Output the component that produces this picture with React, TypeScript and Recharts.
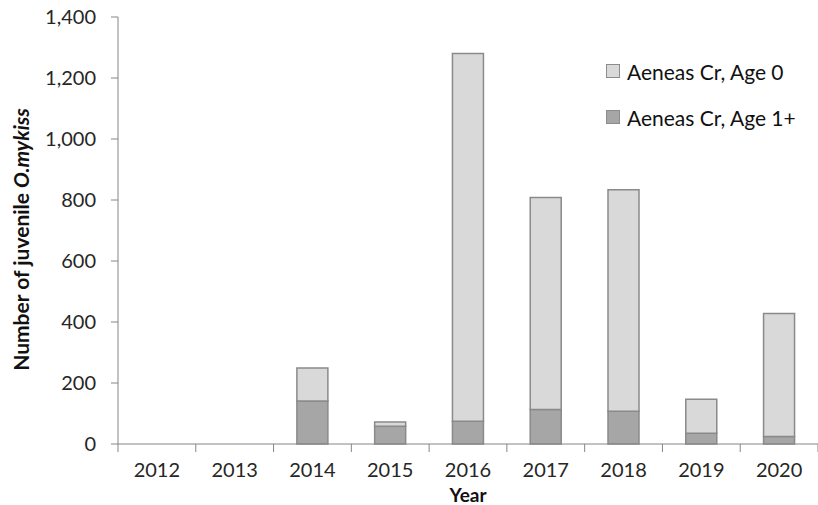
import { BarChart, Bar, XAxis, YAxis, Label } from 'recharts'

const years = ['2012', '2013', '2014', '2015', '2016', '2017', '2018', '2019', '2020']
const age1Plus = [0, 0, 141, 58, 75, 113, 107, 35, 25]
const age0 = [0, 0, 108, 14, 1205, 695, 727, 112, 403]
const yTicks = [0, 200, 400, 600, 800, 1000, 1200, 1400]

const data = years.map((year, i) => ({ year, age1: age1Plus[i], age0: age0[i] }))

const FONT = 'Lato, "Open Sans", sans-serif'
const AXIS = '#868686'
const TEXT = '#262626'

function XTick(props: any) {
  const { x, y, payload, index } = props
  const half = payload.offset ?? 39
  return (
    <g>
      <line x1={x - half} x2={x - half} y1={y - 8} y2={y} stroke={AXIS} />
      {index === years.length - 1 && (
        <line x1={x + half} x2={x + half} y1={y - 8} y2={y} stroke={AXIS} />
      )}
      <text x={x} y={y + 25} textAnchor="middle" fontSize={20} fill={TEXT} fontFamily={FONT}>
        {payload.value}
      </text>
    </g>
  )
}

function YLabel(props: any) {
  const { viewBox } = props
  const cx = 20
  const cy = viewBox.y + viewBox.height / 2 + 9
  return (
    <text
      x={cx}
      y={cy}
      transform={`rotate(-90, ${cx}, ${cy})`}
      textAnchor="middle"
      dominantBaseline="central"
      fontSize={21}
      fontWeight="bold"
      fill="#111"
      fontFamily={FONT}
    >
      Number of juvenile <tspan fontStyle="italic">O.mykiss</tspan>
    </text>
  )
}

const legendItems = [
  { label: 'Aeneas Cr, Age 0', color: '#d9d9d9' },
  { label: 'Aeneas Cr, Age 1+', color: '#a6a6a6' },
]

function LegendBox() {
  return (
    <div style={{ position: 'absolute', left: 606, top: 48, fontFamily: FONT, fontSize: 21, color: '#111' }}>
      {legendItems.map((it) => (
        <div key={it.label} style={{ display: 'flex', alignItems: 'center', height: 46 }}>
          <span
            style={{
              display: 'inline-block',
              width: 12,
              height: 12,
              background: it.color,
              border: '1px solid #8c8c8c',
              marginRight: 7,
            }}
          />
          {it.label}
        </div>
      ))}
    </div>
  )
}

export default function App() {
  return (
    <div style={{ position: 'fixed', left: 0, top: 0, width: 818, height: 505, background: '#fff' }}>
      <BarChart
        width={818}
        height={505}
        data={data}
        margin={{ top: 17, right: 0, left: 0, bottom: 0 }}
        barCategoryGap="30%"
      >
        <XAxis
          dataKey="year"
          stroke={AXIS}
          tickLine={false}
          tick={<XTick />}
          height={61}
          interval={0}
        >
          <Label
            value="Year"
            position="insideBottom"
            offset={3}
            fontSize={19}
            fontWeight="bold"
            fill="#111"
            fontFamily={FONT}
          />
        </XAxis>
        <YAxis
          width={118}
          domain={[0, 1400]}
          ticks={yTicks}
          interval={0}
          stroke={AXIS}
          tickSize={7}
          tickMargin={15}
          tickFormatter={(v: number) => v.toLocaleString('en-US')}
          tick={{ fontSize: 20, fill: TEXT, fontFamily: FONT }}
          label={<YLabel />}
        />
        <Bar
          dataKey="age1"
          stackId="a"
          fill="#a6a6a6"
          stroke="#8a8a8a"
          strokeWidth={1.5}
          isAnimationActive={false}
        />
        <Bar
          dataKey="age0"
          stackId="a"
          fill="#d9d9d9"
          stroke="#8a8a8a"
          strokeWidth={1.5}
          isAnimationActive={false}
        />
      </BarChart>
      <LegendBox />
    </div>
  )
}
